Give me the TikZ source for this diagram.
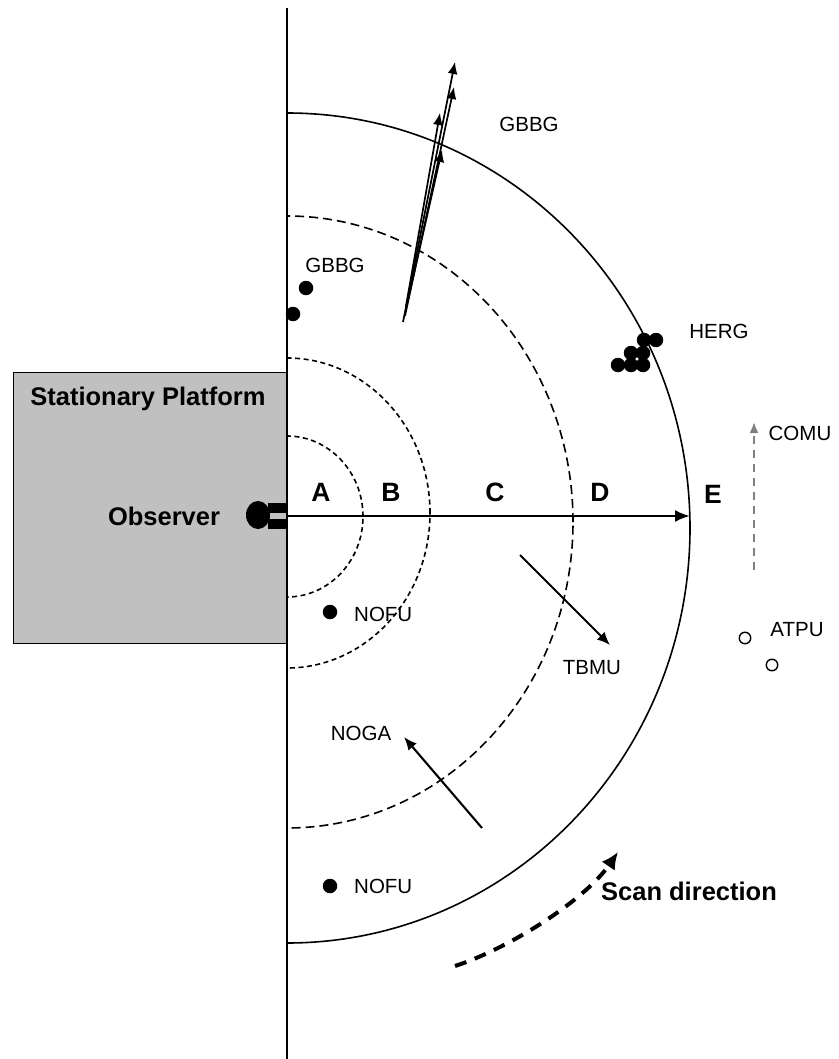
\documentclass[tikz,border=0pt]{standalone}
\usepackage{fontspec}
\setmainfont{Liberation Sans}
\usetikzlibrary{arrows.meta,shapes.geometric}
\definecolor{platgray}{RGB}{192,192,192}
\definecolor{comugray}{RGB}{128,128,128}
\begin{document}
\begin{tikzpicture}[x=1pt,y=-1pt,
  lbl/.style={font=\fontsize{20.5}{22}\selectfont, inner sep=0pt},
  blbl/.style={font=\fontsize{25.5}{28}\selectfont\bfseries, inner sep=0pt},
  zone/.style={font=\fontsize{26.5}{28}\selectfont\bfseries, inner sep=0pt},
  dot/.style={circle, fill=black, minimum size=14.5pt, inner sep=0pt},
  odot/.style={circle, draw=black, line width=1.4pt, minimum size=11.5pt, inner sep=0pt},
  shortdash/.style={line width=1.6pt, dash pattern=on 5pt off 3.5pt},
  longdash/.style={line width=1.6pt, dash pattern=on 9pt off 5pt},
  rim/.style={line width=1.6pt},
  track/.style={line width=1.7pt, -{Latex[length=12pt,width=10pt]}},
  bird/.style={line width=2.1pt, -{Latex[length=13pt,width=11pt]}}
]
\useasboundingbox (0,0) rectangle (838,1059);

% stationary platform
\node[draw=black, line width=1pt, fill=platgray, minimum width=274pt, minimum height=271pt,
      anchor=north west, inner sep=0pt] (platform) at (13,372) {};
\node[blbl] (plattext) at (148,399) {Stationary Platform};
\node[blbl] (obstext) at (164,516) {Observer};

% observer icon
\node[ellipse, fill=black, minimum width=24pt, minimum height=28pt, inner sep=0pt] (head) at (258,515) {};
\fill (268,503) rectangle (286,513);
\fill (268,519) rectangle (286,529);

% rings
\begin{scope}
\clip (287,0) rectangle (838,1059);
\draw[shortdash] (287,516.5) ellipse [x radius=76pt, y radius=80.5pt];
\draw[shortdash] (287,513) ellipse [x radius=143pt, y radius=155pt];
\draw[longdash] (287,522) ellipse [x radius=286pt, y radius=306pt];
\draw[rim] (287,528) ellipse [x radius=403pt, y radius=415pt];
\end{scope}

% vertical edge line
\coordinate (vtop) at (287,8);
\coordinate (vbot) at (287,1059);
\draw[line width=1.8pt] (vtop) -- (vbot);

% transect arrow
\coordinate (tstart) at (287,516);
\coordinate (tend) at (690,516);
\draw[line width=2.4pt, -{Latex[length=15pt,width=12pt]}] (tstart) -- (tend);

% zone letters
\node[zone] (zA) at (321,492) {A};
\node[zone] (zB) at (391,492) {B};
\node[zone] (zC) at (495,492) {C};
\node[zone] (zD) at (600,492) {D};
\node[zone] (zE) at (713,494) {E};

% GBBG flying
\coordinate (g1s) at (403,322); \coordinate (g1e) at (455,62);
\coordinate (g2s) at (405,316); \coordinate (g2e) at (454,87);
\coordinate (g3s) at (406,306); \coordinate (g3e) at (440,113);
\coordinate (g4s) at (408,300); \coordinate (g4e) at (442,150);
\draw[track] (g1s) -- (g1e);
\draw[track] (g2s) -- (g2e);
\draw[track] (g3s) -- (g3e);
\draw[track] (g4s) -- (g4e);
\node[lbl] (gbbgtop) at (529,124) {GBBG};

% GBBG sitting
\node[dot] (gb1) at (306,288) {};
\node[dot] (gb2) at (293,314) {};
\node[lbl] (gbbgleft) at (335,265) {GBBG};

% HERG flock
\node[dot] (h1) at (644,340) {};
\node[dot] (h2) at (656,340) {};
\node[dot] (h3) at (631,353) {};
\node[dot] (h4) at (643,353) {};
\node[dot] (h5) at (618,365) {};
\node[dot] (h6) at (631,365) {};
\node[dot] (h7) at (643,365) {};
\node[lbl] (herg) at (719,331) {HERG};

% COMU
\coordinate (cs) at (754,570);
\coordinate (ce) at (754,422);
\draw[draw=comugray, line width=2pt, dash pattern=on 8pt off 6pt,
      -{Latex[length=11pt,width=9pt,fill=comugray]}] (cs) -- (ce);
\node[lbl] (comu) at (800,433) {COMU};

% ATPU
\node[odot] (at1) at (745,638) {};
\node[odot] (at2) at (772,665) {};
\node[lbl] (atpu) at (797,630) {ATPU};

% NOFU
\node[dot] (nf1) at (330,612) {};
\node[lbl, anchor=west] (nofu1) at (354,614) {NOFU};
\node[dot] (nf2) at (330,886) {};
\node[lbl, anchor=west] (nofu2) at (354,886) {NOFU};

% TBMU
\coordinate (tbs) at (520,555);
\coordinate (tbe) at (610,645);
\draw[bird] (tbs) -- (tbe);
\node[lbl] (tbmu) at (592,668) {TBMU};

% NOGA
\coordinate (ngs) at (482,828);
\coordinate (nge) at (404,737);
\draw[bird] (ngs) -- (nge);
\node[lbl] (noga) at (361,733) {NOGA};

% scan direction
\coordinate (ss) at (455,966);
\coordinate (se) at (618,852);
\draw[line width=4pt, dash pattern=on 12pt off 9pt, -{Latex[length=17pt,width=16pt]}]
  (ss) .. controls (510,948) and (585,900) .. (se);
\node[blbl] (scan) at (689,891) {Scan direction};
\end{tikzpicture}
\end{document}
